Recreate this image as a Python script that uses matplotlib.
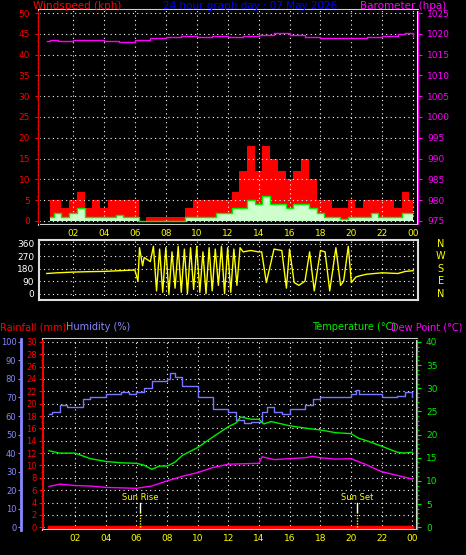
import matplotlib
matplotlib.use("Agg")
import matplotlib.pyplot as plt
import numpy as np

hours_ticks = [2, 4, 6, 8, 10, 12, 14, 16, 18, 20, 22, 24]
hour_labels = ["02", "04", "06", "08", "10", "12", "14", "16", "18", "20", "22", "00"]

baro_t = [0.3, 0.5, 1, 2, 3, 4, 5, 6, 7, 8, 9, 10, 11, 12, 13, 14, 15, 15.5, 16, 17, 18, 19, 20, 21, 22, 23, 23.5, 24]
baro_v = [1018.2, 1018.5, 1018.4, 1018.5, 1018.5, 1018.3, 1018.1, 1018.5, 1019.1, 1019.3, 1019.5, 1019.3, 1019.5, 1019.2,
          1019.4, 1019.8, 1020.2, 1020.2, 1019.7, 1019.2, 1019.0, 1019.0, 1019.1, 1019.3, 1019.6, 1020.0, 1020.1, 1019.6]

wind_t = list(np.arange(0.5, 24.01, 0.5))
gust = [5, 5, 3, 5, 7, 3, 5, 3, 5, 5, 5, 5, 0, 1, 1, 1, 1, 1, 3, 5, 5, 5, 5, 5,
        7, 12, 18, 12, 18, 15, 12, 10, 12, 15, 10, 5, 5, 3, 3, 5, 3, 5, 5, 5, 5, 3, 7, 5]
avg = [1, 2, 1, 2, 3, 1, 1, 1, 1, 1.5, 1, 1, 0, 0, 0, 0, 0, 0, 1, 1, 1, 1, 2, 2,
       3, 3, 5, 4, 6, 4, 4, 3, 4, 4, 3, 2, 1, 1, 0.5, 1, 1, 1, 2, 1, 1, 1, 2, 2]

dir_t = [0.3, 1, 2, 3, 4, 5, 6, 6.2, 6.3, 6.5, 6.6, 7.0, 7.2, 7.4, 7.6, 7.8, 8.0, 8.2, 8.4, 8.6, 8.8, 9.0, 9.2, 9.4, 9.6,
         9.8, 10.0, 10.2, 10.4, 10.6, 10.8, 11.0, 11.2, 11.4, 11.6, 11.8, 12.0, 12.2, 12.4, 12.6, 12.8, 13.0, 13.5, 14.0,
         14.2, 14.5, 15.0, 15.5, 15.8, 16.0, 16.3, 16.6, 17.0, 17.3, 17.6, 18.0, 18.3, 18.6, 19.0, 19.3, 19.5, 19.8,
         20.0, 20.3, 20.6, 21, 22, 23, 23.5, 24]
dir_v = [145, 150, 155, 158, 160, 165, 170, 90, 330, 200, 260, 230, 340, 20, 320, 10, 330, 0, 300, 40, 340, 10, 320, 0,
         330, 30, 340, 10, 300, 0, 330, 20, 320, 60, 340, 0, 330, 10, 320, 60, 330, 300, 310, 300, 300, 80, 320, 310,
         40, 320, 80, 60, 90, 300, 20, 310, 300, 20, 330, 60, 90, 340, 80, 120, 130, 140, 150, 145, 160, 165]

hum_t = [0.3, 0.5, 1, 1.5, 2, 2.5, 3, 4, 5, 5.5, 6, 6.5, 7, 7.5, 8, 8.2, 8.5, 9, 10, 11, 12, 12.5, 13, 13.5, 14, 14.2,
         14.5, 15, 15.5, 16, 17, 17.5, 18, 19, 19.5, 20, 20.3, 20.5, 21, 22, 23, 23.5, 24]
hum_v = [61, 62, 66, 65, 65, 69, 70, 72, 73, 72, 73, 75, 79, 79, 80, 83, 81, 76, 70, 64, 62, 58, 56, 57, 57, 62,
         65, 62, 61, 64, 66, 69, 70, 70, 70, 72, 74, 72, 72, 70, 71, 73, 70]

temp_t = [0.3, 1, 2, 3, 4, 5, 6, 6.5, 7, 7.5, 8, 8.5, 9, 10, 11, 12, 12.5, 12.8, 13.5, 14, 14.3, 14.8, 16, 17, 18,
          19, 20, 20.5, 21, 22, 23, 23.5, 24]
temp_v = [16.5, 16.0, 16.0, 14.8, 14.2, 13.9, 13.8, 13.4, 12.5, 13.2, 13.2, 14.0, 15.5, 17.2, 19.5, 21.7, 22.5, 23.8,
          23.3, 23.3, 22.3, 22.8, 21.9, 21.4, 21.0, 20.4, 20.2, 19.2, 18.7, 17.5, 16.2, 16.0, 16.2]

dew_t = [0.3, 1, 2, 3, 4, 5, 6, 7, 8, 9, 10, 11, 12, 13, 14, 14.2, 15, 16, 17, 17.5, 18, 19, 20, 21, 22, 23, 24]
dew_v = [8.8, 9.3, 9.0, 8.9, 8.6, 8.5, 8.4, 8.9, 10.0, 11.0, 11.8, 12.9, 13.6, 13.7, 13.8, 15.2, 14.6, 14.8, 15.0,
         15.3, 15.0, 14.7, 14.8, 13.5, 12.0, 11.2, 10.4]

rain_t = [0.3, 24]
rain_v = [0, 0]

sun_rise, sun_set = 6.25, 20.4

BG = "black"
FS = 6.5
plt.rcParams['font.family'] = ['DejaVu Sans']
fig = plt.figure(figsize=(4.66, 5.55), dpi=100, facecolor=BG)

def style(ax, xl):
    ax.set_facecolor(BG)
    for s in ax.spines.values():
        s.set_color("#dddddd"); s.set_linewidth(1.5)
    ax.set_xlim(*xl)
    ax.set_xticks(hours_ticks)
    ax.tick_params(axis='x', colors='yellow', labelsize=FS, length=0, pad=3)
    ax.grid(True, color='white', linestyle=(0, (1, 3)), linewidth=0.8)

# ---- top panel
ax1 = fig.add_axes([0.0837, 0.5946, 0.813, 0.387])
style(ax1, (-0.2, 24.3))
ax1.set_xticklabels(hour_labels)
ax1.set_ylim(-1.0, 50.7)
ax1.set_yticks(range(0, 51, 5))
ax1.tick_params(axis='y', colors='red', labelsize=FS, length=3, direction='out')
ax1.set_yticks(np.arange(0, 51, 1), minor=True)
ax1.tick_params(axis='y', which='minor', colors='red', length=1.5)
ax1.spines['left'].set_color('red')
ax1.fill_between(wind_t, gust, step='mid', color='red', lw=0)
ax1.fill_between(wind_t, avg, step='mid', color='#ccffcc', lw=0)
ax1.plot(wind_t, avg, color='#00ee00', lw=1, drawstyle='steps-mid')
ax1b = ax1.twinx()
ax1b.set_ylim(975 - 1.0, 975 + 50.7)
ax1b.set_yticks(range(975, 1026, 5))
ax1b.tick_params(axis='y', colors='magenta', labelsize=FS, length=3)
ax1b.spines['right'].set_color('magenta')
ax1b.plot(baro_t, baro_v, color='magenta', lw=1, drawstyle='steps-post')
fig.text(33 / 466, 1 - 6 / 555, "Windspeed (kph)", color='red', fontsize=7.5, va='center')
fig.text(250 / 466, 1 - 6 / 555, "24 hour graph day : 07 May 2026", color='blue', fontsize=7.5, va='center', ha='center')
fig.text(446 / 466, 1 - 6 / 555, "Barometer (hpa)", color='magenta', fontsize=7.5, va='center', ha='right')

# ---- direction panel
ax2 = fig.add_axes([0.0837, 0.4595, 0.813, 0.108])
style(ax2, (-0.2, 24.3))
ax2.set_xticklabels([])
ax2.set_ylim(-45, 385)
ax2.set_yticks([0, 90, 180, 270, 360])
ax2.tick_params(axis='y', colors='white', labelsize=FS, length=0)
ax2.plot(dir_t, dir_v, color='yellow', lw=1)
for lab, y in zip(["N", "W", "S", "E", "N"], [360, 270, 180, 90, 0]):
    ax2.text(1.06, (y + 45) / 430, lab, color='yellow', fontsize=7, transform=ax2.transAxes, ha='center', va='center')

# ---- bottom panel
ax3 = fig.add_axes([0.092, 0.045, 0.8026, 0.344])
style(ax3, (-0.1, 24.3))
ax3.set_xticklabels(hour_labels)
ylo, yhi = -1.5, 101.5
ax3.set_ylim(ylo * 0.3, yhi * 0.3)
ax3.set_yticks(range(0, 31, 2))
ax3.tick_params(axis='y', colors='red', labelsize=6, length=3, pad=1.5)
ax3.set_yticks(np.arange(0, 31, 1), minor=True)
ax3.tick_params(axis='y', which='minor', colors='red', length=1.5)
ax3.spines['left'].set_color('red')
ax3.plot(rain_t, rain_v, color='red', lw=2.5)

axh = ax3.twinx()
axh.set_ylim(ylo, yhi)
axh.yaxis.set_ticks_position('left'); axh.yaxis.set_label_position('left')
axh.spines['left'].set_position(('outward', 16))
axh.spines['left'].set_color('#8888ff'); axh.spines['left'].set_linewidth(2)
for s in ['right', 'top', 'bottom']:
    axh.spines[s].set_visible(False)
axh.set_yticks(range(0, 101, 10))
axh.tick_params(axis='y', colors='#8888ff', labelsize=6, length=2, pad=1)
axh.plot(hum_t, hum_v, color='#7777ff', lw=1, drawstyle='steps-post')

axt = ax3.twinx()
axt.set_ylim(ylo * 0.4, yhi * 0.4)
axt.set_yticks(range(0, 41, 5))
axt.set_yticks(np.arange(0, 41, 1), minor=True)
axt.tick_params(axis='y', colors='#00ee00', labelsize=FS, length=3)
axt.tick_params(axis='y', which='minor', colors='#00ee00', length=1.5)
axt.spines['right'].set_color('#00ee00')
axt.spines['left'].set_visible(False)
axt.plot(temp_t, temp_v, color='#00ee00', lw=1)
axt.plot(dew_t, dew_v, color='magenta', lw=1)
for t, lab in [(sun_rise, "Sun Rise"), (sun_set, "Sun Set")]:
    axh.plot([t, t], [8, 13], color='white', lw=1)
    axh.plot([t, t], [0, 8], color='yellow', lw=1, linestyle=(0, (1, 1)))
    axh.text(t, 16, lab, color='yellow', fontsize=6, ha='center', va='center')

fig.text(0.0, 1 - 327 / 555, "Rainfall (mm)", color='red', fontsize=7, va='center')
fig.text(66 / 466, 1 - 327 / 555, "Humidity (%)", color='#8888ff', fontsize=7, va='center')
fig.text(312 / 466, 1 - 327 / 555, "Temperature (°C)", color='#00ee00', fontsize=7, va='center')
fig.text(462 / 466, 1 - 327 / 555, "Dew Point (°C)", color='magenta', fontsize=7, va='center', ha='right')

fig.savefig("out.png", dpi=100, facecolor=BG)
